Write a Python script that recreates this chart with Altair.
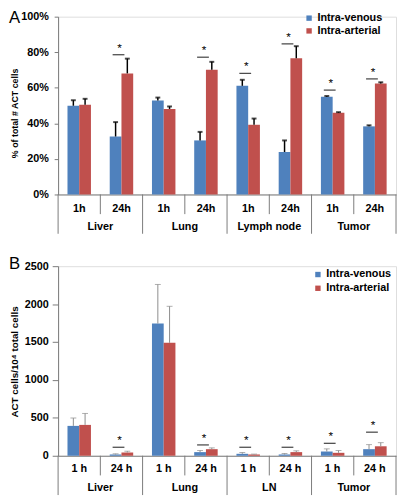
import altair as alt
import pandas as pd

series = ["Intra-venous", "Intra-arterial"]

# Panel A: % of total # ACT cells
organs_a = ["Liver", "Lung", "Lymph node", "Tumor"]
times_a = ["1h", "24h"]
a_iv = [49.9, 32.6, 52.9, 30.4, 61.1, 23.9, 54.9, 38.3]
a_iv_err = [3.1, 8.1, 1.6, 4.8, 3.4, 6.5, 0.5, 0.6]
a_ia = [50.5, 68.1, 48.1, 70.2, 39.2, 76.6, 45.9, 62.4]
a_ia_err = [3.3, 8.3, 1.4, 4.4, 3.5, 6.8, 0.4, 0.7]
a_sig = [None, 78.6, None, 77.2, 68.1, 84.7, 58.7, 65.0]
a_ticks = [0, 20, 40, 60, 80, 100]

# Panel B: ACT cells per 10^4 total cells
organs_b = ["Liver", "Lung", "LN", "Tumor"]
times_b = ["1 h", "24 h"]
b_iv = [394, 17, 1743, 48, 26, 17, 56, 87]
b_iv_err = [103, 9, 516, 21, 17, 13, 35, 60]
b_ia = [407, 43, 1489, 87, 17, 48, 39, 125]
b_ia_err = [151, 17, 482, 17, 5, 17, 30, 48]
b_sig = [None, 112, None, 143, 112, 112, 164, 311]
b_ticks = [0, 500, 1000, 1500, 2000, 2500]

BLUE = "#4F81BD"
RED = "#C0504D"
GREY = "#7a7a7a"
FONT = "Liberation Sans"


def panel(letter, organs, times, iv, iv_err, ia, ia_err, sig, ticks, ymax,
          label_expr, ytitle, ytitle_size, w, h, err_color, err_w, cap_w,
          cap_t, tick_size, label_pad, legend_x, legend_y, legend_row,
          sub_dy, grp_dy, sub_len, maj_len, title_y, let_base, let_y):
    keys = [f"{o}|{t}" for o in organs for t in times]
    rows = []
    for i, k in enumerate(keys):
        o, t = k.split("|")
        rows.append(dict(key=k, organ=o, time=t, series=series[0],
                         value=iv[i], hi=iv[i] + iv_err[i]))
        rows.append(dict(key=k, organ=o, time=t, series=series[1],
                         value=ia[i], hi=ia[i] + ia_err[i]))
    long = pd.DataFrame(rows)
    wide = pd.DataFrame(dict(key=keys,
                             organ=[k.split("|")[0] for k in keys],
                             time=[k.split("|")[1] for k in keys],
                             sig=sig))
    sigdf = wide.dropna(subset=["sig"])
    first = wide[wide.time == times[0]]
    second = wide[wide.time == times[1]]
    last = wide.iloc[[-1]]

    xscale = alt.Scale(domain=keys, paddingInner=0, paddingOuter=0)
    xaxis = alt.Axis(labels=False, ticks=False, title=None, grid=False,
                     domainColor=GREY, domainWidth=1)

    def X(**kw):
        return alt.X("key:N", scale=xscale, axis=xaxis, sort=keys, **kw)

    yscale = alt.Scale(domain=[0, ymax], nice=False)
    yaxis = alt.Axis(values=ticks, labelExpr=label_expr, grid=False,
                     title=ytitle, titleFontSize=ytitle_size,
                     titleFontWeight="bold", titleColor="black",
                     titleX=-44, titleY=title_y, titleAngle=270,
                     titleBaseline="middle", titleAlign="center",
                     labelFontSize=11, labelFontWeight="bold",
                     labelColor="black", labelPadding=label_pad,
                     tickSize=tick_size, tickColor=GREY, domainColor=GREY)

    def Y(field):
        return alt.Y(f"{field}:Q", scale=yscale, axis=yaxis)

    xoff = alt.XOffset("series:N", sort=series,
                       scale=alt.Scale(domain=series, paddingOuter=0.8,
                                       paddingInner=0))

    base = alt.Chart(long)
    bars = base.mark_bar().encode(
        x=X(), xOffset=xoff, y=Y("value"),
        color=alt.Color("series:N",
                        scale=alt.Scale(domain=series, range=[BLUE, RED]),
                        legend=alt.Legend(orient="none", legendX=legend_x,
                                          legendY=legend_y, title=None,
                                          symbolType="square", symbolSize=30,
                                          symbolStrokeWidth=0,
                                          labelFontSize=11,
                                          labelFontWeight="bold",
                                          labelColor="black", labelFont=FONT,
                                          padding=0, rowPadding=legend_row,
                                          labelOffset=3)),
    )
    err = base.mark_rule(color=err_color, strokeWidth=err_w).encode(
        x=X(), xOffset=xoff, y=Y("value"), y2="hi:Q")
    cap = base.mark_tick(color=err_color, size=cap_w, thickness=cap_t,
                         orient="horizontal").encode(
        x=X(), xOffset=xoff, y=Y("hi"))

    sbase = alt.Chart(sigdf)
    sline = sbase.mark_tick(color="black", size=12, thickness=1.3,
                            orient="horizontal", xOffset=-3).encode(
        x=X(), y=Y("sig"))
    star = sbase.mark_text(text="*", fontSize=12, dy=-7, xOffset=-2,
                           font=FONT, color="black").encode(
        x=X(), y=Y("sig"))

    sub_lab = alt.Chart(wide).mark_text(
        fontSize=11, fontWeight="bold", baseline="middle", font=FONT,
        color="black").encode(x=X(), y=alt.value(h + sub_dy), text="time:N")
    grp_lab = alt.Chart(first).mark_text(
        fontSize=11, fontWeight="bold", baseline="middle", font=FONT,
        color="black").encode(x=X(bandPosition=1), y=alt.value(h + grp_dy),
                              text="organ:N")
    sub_div = alt.Chart(second).mark_rule(color=GREY, strokeWidth=1).encode(
        x=X(bandPosition=0), y=alt.value(h), y2=alt.value(h + sub_len))
    maj_div = alt.Chart(first).mark_rule(color=GREY, strokeWidth=1).encode(
        x=X(bandPosition=0), y=alt.value(h), y2=alt.value(h + maj_len))
    end_div = alt.Chart(last).mark_rule(color=GREY, strokeWidth=1).encode(
        x=X(bandPosition=1), y=alt.value(h), y2=alt.value(h + maj_len))

    let = alt.Chart(pd.DataFrame({"t": [letter]})).mark_text(
        align="left", baseline=let_base, fontSize=17, font=FONT,
        color="black").encode(x=alt.value(-50), y=alt.value(let_y),
                              text="t:N")

    return alt.layer(bars, err, cap, sline, star, sub_div, maj_div, end_div,
                     sub_lab, grp_lab, let).properties(width=w, height=h)


pa = panel("A", organs_a, times_a, a_iv, a_iv_err, a_ia, a_ia_err, a_sig,
           a_ticks, 100, "datum.value + '%'", "% of total # ACT cells", 9,
           344, 181, "black", 1.5, 5, 2, 4, 6, 250, -4, 1,
           15, 33, 20, 40, 98, "top", -7)
pb = panel("B", organs_b, times_b, b_iv, b_iv_err, b_ia, b_ia_err, b_sig,
           b_ticks, 2500, "datum.value", "ACT cells/10\u2074 total cells", 10,
           344, 193, "#8c8c8c", 1, 6, 1, 6, 4, 259, 3, 2,
           14, 33, 20, 40, 97, "middle", -2)

chart = alt.vconcat(pa, pb, spacing=20).resolve_scale(
    color="independent", x="independent", y="independent",
    xOffset="independent").properties(
    padding={"left": 0, "top": -4.6, "right": 0, "bottom": 0}
).configure_view(stroke=None).configure(font=FONT)

chart.save("out.html", embed_options={"renderer": "svg", "actions": False})
